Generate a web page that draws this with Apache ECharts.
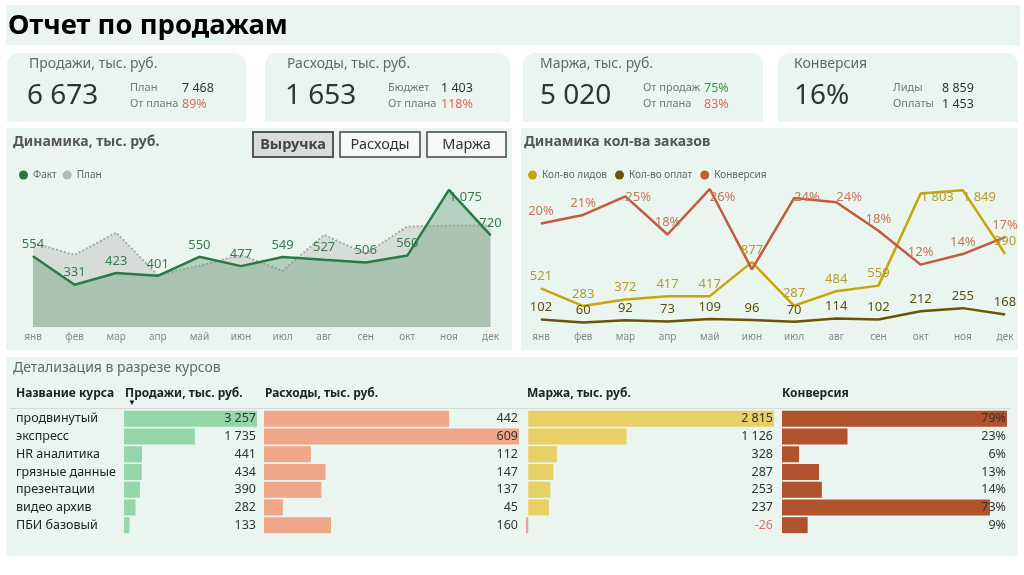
<!DOCTYPE html>
<html><head><meta charset="utf-8">
<script src="https://cdn.jsdelivr.net/npm/echarts@6/dist/echarts.min.js"></script>
<style>html,body{margin:0;padding:0;background:#fff}#c{width:1024px;height:575px}</style>
</head><body><div id="c"></div><script>
// ---------- DATA ----------
const months = ['янв','фев','мар','апр','май','июн','июл','авг','сен','окт','ноя','дек'];
const salesFact = [554,331,423,401,550,477,549,527,506,560,1075,720];
const salesPlan = [660,565,740,405,480,565,440,722,575,787,795,795];
const leads = [521,283,372,417,417,877,287,484,559,1803,1849,990];
const payments = [102,60,92,73,109,96,70,114,102,212,255,168];
const conversion = [0.196,0.212,0.247,0.175,0.261,0.109,0.244,0.236,0.182,0.118,0.138,0.170];
const courses = ['продвинутый','экспресс','HR аналитика','грязные данные','презентации','видео архив','ПБИ базовый'];
const courseSales = [3257,1735,441,434,390,282,133];
const courseCosts = [442,609,112,147,137,45,160];
const courseMargin = [2815,1126,328,287,253,237,-26];
const courseConv = [79,23,6,13,14,73,9];
const kpiTitles = ['Продажи, тыс. руб.','Расходы, тыс. руб.','Маржа, тыс. руб.','Конверсия'];
const kpiValues = ['6 673','1 653','5 020','16%'];
const kpiSub1Labels = ['План','Бюджет','От продаж','Лиды'];
const kpiSub1Values = ['7 468','1 403','75%','8 859'];
const kpiSub2Labels = ['От плана','От плана','От плана','Оплаты'];
const kpiSub2Values = ['89%','118%','83%','1 453'];
const buttons = ['Выручка','Расходы','Маржа'];
const tableHeaders = ['Название курса','Продажи, тыс. руб.','Расходы, тыс. руб.','Маржа, тыс. руб.','Конверсия'];

// ---------- HELPERS ----------
const FONT = '"Noto Sans", "Open Sans", sans-serif';
const MINT = '#eaf5ef';
function fmt(n){const s=String(Math.abs(n)).replace(/\B(?=(\d{3})+(?!\d))/g,' ');return (n<0?'-':'')+s;}
function txt(x,y,text,size,color,weight,align){
  return {type:'text',z:5,style:{x:x,y:y,text:text,fontSize:size,fontFamily:FONT,fontWeight:weight||'normal',fill:color,align:align||'left',verticalAlign:'middle'}};
}
// keep point labels inside the plot top (labels that would go too high are pushed down)
const clampTop = p => (p.labelRect.y < 189 ? {y: 178 + p.labelRect.height} : {});
const graphics = [];
// panels
graphics.push({type:'rect',z:0,shape:{x:6,y:5,width:1014,height:40},style:{fill:MINT}});
graphics.push({type:'rect',z:0,shape:{x:6,y:128,width:506,height:222},style:{fill:MINT}});
graphics.push({type:'rect',z:0,shape:{x:521,y:128,width:497,height:222},style:{fill:MINT}});
graphics.push({type:'rect',z:0,shape:{x:6,y:357,width:1012,height:199},style:{fill:MINT}});
graphics.push(txt(8,26,'Отчет по продажам',27.5,'#000','bold'));
// KPI cards
const cardX=[7,265,523,778], cardW=[239,245,240,240];
const titleDX=[22,22,17,16], bigDX=[20,20,17,16];
const subLX=[123,123,120,115], subVX=[175,176,181,164];
const sub1Col=['#333','#333','#2e9e4c','#333'], sub2Col=['#e06868','#e06868','#e06868','#333'];
for(let i=0;i<4;i++){
  const x=cardX[i];
  graphics.push({type:'rect',z:0,shape:{x:x,y:53,width:cardW[i],height:69,r:[12,12,0,0]},style:{fill:MINT}});
  graphics.push(txt(x+titleDX[i],64,kpiTitles[i],14,'#666'));
  graphics.push(txt(x+bigDX[i],96,kpiValues[i],28,'#333'));
  graphics.push(txt(x+subLX[i],88,kpiSub1Labels[i],11,'#777'));
  graphics.push(txt(x+subVX[i],88,kpiSub1Values[i],12.5,sub1Col[i]));
  graphics.push(txt(x+subLX[i],104,kpiSub2Labels[i],11,'#777'));
  graphics.push(txt(x+subVX[i],104,kpiSub2Values[i],12.5,sub2Col[i]));
}
// chart titles
graphics.push(txt(13,142,'Динамика, тыс. руб.',14,'#555','bold'));
graphics.push(txt(524,142,'Динамика кол-ва заказов',14,'#555','bold'));
graphics.push(txt(13,368,'Детализация в разрезе курсов',14,'#666'));
// buttons
const btnX=[253,340,427], btnW=[80,80,79];
for(let i=0;i<3;i++){
  const sel=i===0;
  graphics.push({type:'rect',z:3,shape:{x:btnX[i],y:132,width:btnW[i],height:25},style:{fill:sel?'#d9dcda':'#f6f9f7',stroke:sel?'#555':'#444',lineWidth:sel?2:1.5}});
  graphics.push(txt(btnX[i]+btnW[i]/2,144.5,buttons[i],14.5,sel?'#444':'#333',sel?'bold':'normal','center'));
}
// table headers
const hdrX=[16,125,265,527,782];
for(let i=0;i<5;i++) graphics.push(txt(hdrX[i],394,tableHeaders[i],12,'#222','bold'));
graphics.push(txt(128,403,'▼',8,'#111'));
graphics.push({type:'line',z:3,shape:{x1:10,y1:408.5,x2:1010,y2:408.5},style:{stroke:'#d5dcd8',lineWidth:1}});

// ---------- CHART ----------
const tableGrids=[[124,257],[264,519],[526,774],[782,1007]];
const tableData=[courseSales,courseCosts,courseMargin,courseConv];
const tableColors=['#95d5aa','#f0a688','#e8cf66','#b0522c'];
const grid=[
  {left:33,right:1024-490.5,top:179,bottom:575-327},
  {left:541,right:1024-1005,top:179,bottom:575-327}
];
const xAxis=[
  {gridIndex:0,type:'category',data:months,boundaryGap:false,axisLine:{show:false},axisTick:{show:false},axisLabel:{color:'#888',fontSize:10,margin:5,fontFamily:FONT}},
  {gridIndex:1,type:'category',data:months,boundaryGap:false,axisLine:{show:false},axisTick:{show:false},axisLabel:{color:'#888',fontSize:10,margin:5,fontFamily:FONT}}
];
const yAxis=[
  {gridIndex:0,type:'value',min:0,max:1160,show:false},
  {gridIndex:1,type:'value',min:0,max:2000,show:false},
  {gridIndex:1,type:'value',min:0,max:0.28,show:false}
];
const series=[
  {type:'line',name:'План',xAxisIndex:0,yAxisIndex:0,data:salesPlan,symbol:'none',z:2,
   itemStyle:{color:'#b3bab6'},lineStyle:{type:'dotted',color:'#a5aca8',width:2},areaStyle:{color:'#d6ddd8',opacity:1}},
  {type:'line',name:'Факт',xAxisIndex:0,yAxisIndex:0,data:salesFact,symbol:'circle',symbolSize:1,z:3,
   itemStyle:{color:'#24773f'},lineStyle:{color:'#2a7a46',width:2.5},areaStyle:{color:'rgba(108,158,126,0.6)'},
   label:{show:true,position:'top',distance:5,color:'#3a7a50',fontSize:13,fontFamily:FONT,formatter:p=>fmt(p.value)},labelLayout:clampTop},
  {type:'line',name:'Кол-во лидов',xAxisIndex:1,yAxisIndex:1,data:leads,symbol:'circle',symbolSize:1,
   itemStyle:{color:'#c8a50a'},lineStyle:{color:'#c8a50a',width:2.5},
   label:{show:true,position:'top',distance:5,color:'#b59c2e',fontSize:13,fontFamily:FONT,formatter:p=>fmt(p.value)},labelLayout:clampTop},
  {type:'line',name:'Кол-во оплат',xAxisIndex:1,yAxisIndex:1,data:payments,symbol:'circle',symbolSize:1,
   itemStyle:{color:'#6a5600'},lineStyle:{color:'#6a5600',width:2.5},
   label:{show:true,position:'top',distance:5,color:'#5c4e12',fontSize:13,fontFamily:FONT,formatter:p=>fmt(p.value)}},
  {type:'line',name:'Конверсия',xAxisIndex:1,yAxisIndex:2,data:conversion.map((v,i)=>i===5?{value:v,label:{show:false}}:v),symbol:'circle',symbolSize:1,
   itemStyle:{color:'#c25a3c'},lineStyle:{color:'#c25a3c',width:2.5},
   label:{show:true,position:'top',distance:5,color:'#c4785e',fontSize:13,fontFamily:FONT,formatter:p=>Math.round(p.value*100)+'%'},labelLayout:clampTop}
];
tableGrids.forEach((g,k)=>{
  const gi=grid.length;
  grid.push({left:g[0],right:1024-g[1],top:410,height:124});
  const d=tableData[k];
  xAxis.push({gridIndex:gi,type:'value',min:Math.min(0,...d),max:Math.max(...d),show:false});
  const yi=yAxis.length;
  yAxis.push({gridIndex:gi,type:'category',inverse:true,data:courses,axisLine:{show:false},axisTick:{show:false},
    splitLine:{show:false},
    axisLabel:k===0?{show:true,align:'left',margin:108,fontSize:12.5,color:'#222',fontFamily:FONT}:{show:false}});
  yAxis.push({gridIndex:gi,type:'category',position:'right',inverse:true,z:10,data:d.map(v=>k===3?v+'%':fmt(v)),
    axisLine:{show:false},axisTick:{show:false},
    axisLabel:{inside:true,align:'right',margin:1,fontSize:12.5,fontFamily:FONT,color:(v,i)=>d[i]<0?'#e07070':'#333'}});
  series.push({type:'bar',xAxisIndex:gi,yAxisIndex:yi,data:d,barWidth:16,z:2,
    itemStyle:{color:p=>p.value<0?'#eaa0a0':tableColors[k]}});
});
const chart=echarts.init(document.getElementById('c'),null,{renderer:'canvas'});
chart.setOption({
  animation:false,
  backgroundColor:'#ffffff',
  textStyle:{fontFamily:FONT},
  graphic:graphics,
  legend:[
    {data:['Факт','План'],left:14,top:165,icon:'circle',itemWidth:9,itemHeight:9,itemGap:6,textStyle:{fontSize:10,color:'#666',fontFamily:FONT}},
    {data:['Кол-во лидов','Кол-во оплат','Конверсия'],left:523,top:165,icon:'circle',itemWidth:9,itemHeight:9,itemGap:8,textStyle:{fontSize:10,color:'#666',fontFamily:FONT}}
  ],
  grid:grid,xAxis:xAxis,yAxis:yAxis,series:series
});
</script></body></html>
